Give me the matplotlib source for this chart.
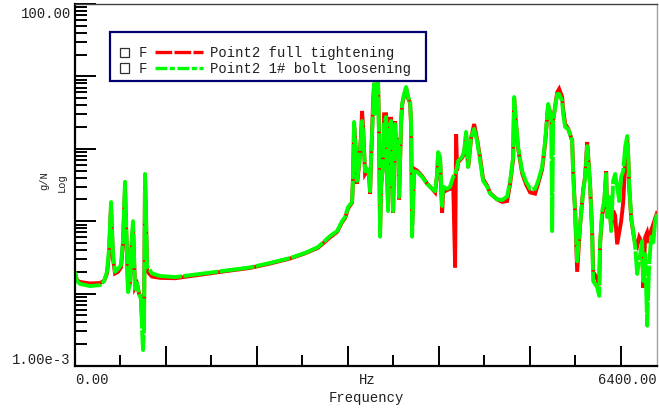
import matplotlib
matplotlib.use("Agg")
import matplotlib.pyplot as plt
from matplotlib.patches import Rectangle
from matplotlib.lines import Line2D
from matplotlib.ticker import MultipleLocator, LogLocator, NullFormatter

# Data (frequency in Hz, FRF magnitude in g/N)
freq = [0, 22, 55, 165, 275, 320, 352, 374, 396, 418, 440, 473, 506, 528, 550,
        561, 583, 605, 616, 638, 649, 660, 682, 704, 726, 737, 748, 759, 770,
        781, 792, 814, 847, 935, 1100, 1375, 1705, 1925, 2145, 2365, 2530,
        2673, 2805, 2882, 2937, 2970, 3003, 3047,
        3058, 3069, 3091, 3102, 3124, 3146, 3157, 3168, 3190, 3212, 3234, 3245,
        3256, 3278, 3289, 3300, 3322, 3333, 3344, 3355, 3366, 3388, 3399, 3421,
        3432, 3443, 3454, 3476, 3487, 3498, 3520, 3531, 3553, 3564, 3586, 3597,
        3619, 3641, 3663, 3685, 3696, 3707, 3729, 3762, 3817, 3872, 3927, 3960,
        3982, 3993, 4015, 4037, 4048, 4092, 4125, 4158, 4180, 4191, 4202, 4213,
        4257, 4279, 4301, 4323, 4356, 4389, 4422, 4455, 4488, 4532, 4565, 4642,
        4697, 4752, 4785, 4818, 4829, 4851, 4873, 4917, 4961, 5005, 5060, 5093,
        5137, 5170, 5203, 5236, 5247, 5258, 5302, 5324, 5357, 5368, 5390, 5423,
        5467, 5478, 5500, 5522, 5555, 5588, 5610, 5632, 5643, 5665, 5687, 5698,
        5742, 5764, 5775, 5797, 5819, 5841, 5852, 5874, 5896, 5918, 5940, 5962,
        5984, 6006, 6028, 6050, 6072, 6083, 6094, 6116, 6138, 6160, 6182, 6204,
        6237, 6248, 6270, 6292, 6314, 6336, 6358, 6380, 6400]

tight = [0.019, 0.0152, 0.0145, 0.0138, 0.0140, 0.0150, 0.019, 0.035, 0.16,
         0.030, 0.019, 0.020, 0.023, 0.05, 0.30, 0.09, 0.012, 0.014, 0.037,
         0.085, 0.032, 0.012, 0.0135, 0.010, 0.0088, 0.0045, 0.0036, 0.0045,
         0.40, 0.11, 0.021, 0.019, 0.0172, 0.0165, 0.0163, 0.0182, 0.0208,
         0.0226, 0.026, 0.0305, 0.036, 0.043, 0.060, 0.071, 0.097, 0.11, 0.15,
         0.18,
         0.42, 2.2, 0.8, 0.33, 0.6, 1.6, 3.33, 2.0, 0.45, 0.5, 0.42, 0.24,
         0.7, 4.5, 8.0, 3.2, 7.5, 8.0, 1.4, 0.07, 0.3, 0.6, 3.0, 3.0,
         0.5, 0.15, 2.6, 2.6, 0.42, 0.13, 2.4, 1.0, 1.4, 0.2, 2.2, 4.0,
         5.5, 7.0, 5.0, 4.3, 2.0, 0.08, 0.53, 0.50, 0.42, 0.33, 0.28, 0.25,
         0.43, 0.85, 0.7, 0.13, 0.25, 0.27, 0.28, 0.36, 0.023, 1.60, 0.5, 0.65,
         0.75, 0.85, 1.6, 0.55, 1.4, 2.2, 1.35, 0.75, 0.38, 0.31, 0.245, 0.20,
         0.185, 0.19, 0.33, 0.72, 5.0, 2.1, 1.0, 0.46, 0.32, 0.25, 0.24, 0.33,
         0.52, 1.2, 4.0, 2.8, 1.5, 2.5, 6.0, 6.7, 5.2, 3.5, 2.2, 1.9,
         1.3, 0.5, 0.13, 0.02, 0.09, 0.27, 0.42, 1.24, 0.8, 0.3, 0.07, 0.02,
         0.016, 0.013, 0.05, 0.12, 0.17, 0.49, 0.12, 0.2, 0.08, 0.14, 0.12, 0.048,
         0.07, 0.10, 0.18, 0.6, 1.4, 0.8, 0.3, 0.11, 0.07, 0.05, 0.045, 0.06,
         0.05, 0.012, 0.06, 0.07, 0.05, 0.075, 0.09, 0.11, 0.13]

loose = [0.020, 0.0149, 0.0136, 0.0127, 0.0131, 0.0149, 0.020, 0.041, 0.184,
         0.035, 0.020, 0.0219, 0.0248, 0.057, 0.35, 0.107, 0.0105, 0.0136,
         0.041, 0.10, 0.035, 0.0116, 0.014, 0.0099, 0.0084, 0.0032, 0.00166,
         0.0032, 0.45, 0.126, 0.024, 0.0219, 0.019, 0.0175, 0.0169, 0.0187,
         0.0212, 0.023, 0.0265, 0.031, 0.0364, 0.044, 0.0625, 0.073, 0.10,
         0.114, 0.157, 0.184,
         0.45, 2.35, 0.77, 0.36, 0.62, 1.46, 2.42, 1.76, 0.49, 0.53, 0.45, 0.26,
         0.77, 3.78, 7.85, 3.03, 7.85, 8.64, 1.28, 0.061, 0.327, 0.56, 2.20, 2.75,
         0.45, 0.138, 2.00, 2.42, 0.45, 0.138, 2.20, 0.93, 1.28, 0.216, 2.42, 4.16,
         5.71, 7.14, 5.19, 4.57, 2.20, 0.061, 0.49, 0.479, 0.41, 0.327, 0.28, 0.26,
         0.45, 0.90, 0.77, 0.162, 0.30, 0.28, 0.30, 0.41, 0.45, 0.50, 0.56, 0.68,
         0.77, 0.93, 1.71, 0.56, 1.46, 1.88, 1.28, 0.68, 0.36, 0.30, 0.24, 0.20,
         0.196, 0.22, 0.36, 0.77, 5.19, 2.20, 1.06, 0.49, 0.35, 0.28, 0.28, 0.36,
         0.56, 1.28, 4.16, 2.75, 0.073, 2.42, 5.71, 5.71, 4.57, 3.03, 2.00, 1.88,
         1.28, 0.45, 0.126, 0.028, 0.091, 0.26, 0.41, 1.09, 0.77, 0.30, 0.067, 0.0149,
         0.0123, 0.0093, 0.053, 0.138, 0.19, 0.45, 0.114, 0.216, 0.073, 0.36, 0.45, 0.30,
         0.19, 0.41, 0.49, 1.06, 1.50, 0.85, 0.327, 0.114, 0.073, 0.044, 0.0187, 0.028,
         0.053, 0.0149, 0.035, 0.0036, 0.026, 0.061, 0.048, 0.10, 0.126]

legend_labels = ["Point2 full tightening", "Point2 1# bolt loosening"]
colors = ["#ff0000", "#00ff00"]

W, H = 659, 410
mono = "Liberation Mono"
txt = "#202020"


def fx(x):
    return x / W


def fy(y):
    return 1 - y / H


fig = plt.figure(figsize=(W / 100, H / 100), dpi=100)
ax = fig.add_axes([fx(75), fy(367), fx(657) - fx(75), fy(5) - fy(367)])

ax.plot(freq, tight, color=colors[0], lw=2.8, solid_joinstyle="miter")
ax.plot(freq, loose, color=colors[1], lw=2.8, dashes=(9, 0.4))

ax.set_yscale("log")
ax.set_xlim(0, 6400)
ax.set_ylim(1e-3, 100)

ax.xaxis.set_major_locator(MultipleLocator(1000))
ax.xaxis.set_minor_locator(MultipleLocator(500))
ax.yaxis.set_major_locator(LogLocator(base=10, numticks=10))
ax.yaxis.set_minor_locator(LogLocator(base=10, subs=range(2, 10), numticks=20))
ax.xaxis.set_major_formatter(NullFormatter())
ax.xaxis.set_minor_formatter(NullFormatter())
ax.yaxis.set_major_formatter(NullFormatter())
ax.yaxis.set_minor_formatter(NullFormatter())
ax.tick_params(axis="both", which="both", direction="in", color="black",
               top=False, right=False)
ax.tick_params(axis="x", which="major", length=14.5, width=1.4)
ax.tick_params(axis="x", which="minor", length=8, width=1.4)
ax.tick_params(axis="y", which="major", length=15, width=1.4)
ax.tick_params(axis="y", which="minor", length=8.6, width=1.4)

ax.spines["left"].set_linewidth(1.6)
ax.spines["bottom"].set_linewidth(1.6)
ax.spines["top"].set_linewidth(1.0)
ax.spines["top"].set_color("#404040")
ax.spines["right"].set_linewidth(1.0)
ax.spines["right"].set_color("#a0a0a0")

# axis texts
fig.text(fx(71), fy(14), "100.00", ha="right", va="center", family=mono, fontsize=10, color=txt)
fig.text(fx(71), fy(360), "1.00e-3", ha="right", va="center", family=mono, fontsize=10, color=txt)
fig.text(fx(75), fy(380), "0.00", ha="left", va="center", family=mono, fontsize=10, color=txt)
fig.text(fx(367), fy(380), "Hz", ha="center", va="center", family=mono, fontsize=10, color=txt)
fig.text(fx(657), fy(380), "6400.00", ha="right", va="center", family=mono, fontsize=10, color=txt)
fig.text(fx(366), fy(398), "Frequency", ha="center", va="center", family=mono, fontsize=10, color=txt)
fig.text(fx(44), fy(181), "g/N", ha="center", va="center", rotation=90, family=mono, fontsize=7.5, color=txt)
fig.text(fx(62), fy(183), "Log", ha="center", va="center", rotation=90, family=mono, fontsize=7.5, color=txt)

# legend box
fig.add_artist(Rectangle((fx(110), fy(82)), fx(426) - fx(110), fy(33) - fy(82),
                         transform=fig.transFigure, facecolor="white",
                         edgecolor="#000070", lw=1.6, zorder=5))
rows = [53, 69]
leg_dashes = [(5, 0.7), (3.5, 0.8, 1.5, 0.8)]
for r, lab, c, d in zip(rows, legend_labels, colors, leg_dashes):
    fig.add_artist(Rectangle((fx(120), fy(r + 4.5)), fx(9), fy(0) - fy(9),
                             transform=fig.transFigure, facecolor="white",
                             edgecolor="#303030", lw=0.9, zorder=6))
    fig.text(fx(139), fy(r), "F", ha="left", va="center", family=mono,
             fontsize=10, color=txt, zorder=6)
    fig.add_artist(Line2D([fx(155), fx(203)], [fy(r), fy(r)], color=c, lw=2.4,
                          dashes=d, transform=fig.transFigure, zorder=6))
    fig.text(fx(210), fy(r), lab, ha="left", va="center", family=mono,
             fontsize=10, color=txt, zorder=6)

fig.savefig("out.png", dpi=100)
